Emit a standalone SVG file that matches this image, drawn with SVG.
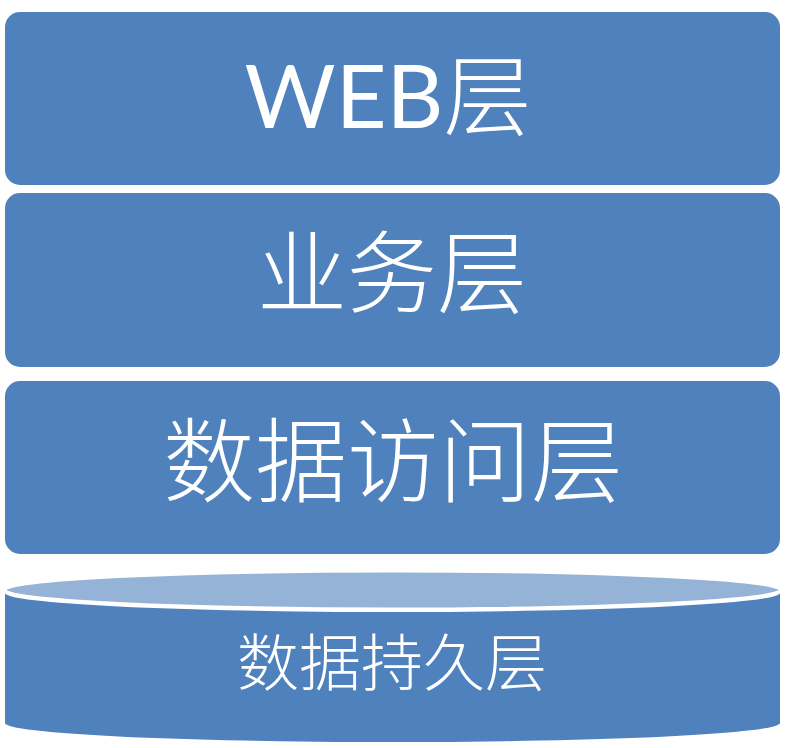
<svg xmlns="http://www.w3.org/2000/svg" width="786" height="748" viewBox="0 0 786 748">
  <style>
    .box { fill: #4f81bd; }
    .cap { fill: #95b3d7; stroke: #ffffff; stroke-width: 3; }
    .t { fill: #ffffff; text-anchor: middle; font-family: "Noto Sans CJK SC", "Noto Sans", sans-serif; font-weight: 300; }
    .lat { font-family: Lato, "Noto Sans CJK SC", sans-serif; font-weight: 400; }
  </style>
  <rect width="786" height="748" fill="#ffffff"/>
  <g id="web">
    <rect class="box" x="5" y="12" width="775" height="173" rx="15" ry="15"/>
    <text class="t lat" x="388" y="128" font-size="88">WEB<tspan font-family="Noto Sans CJK SC, sans-serif" font-weight="300">层</tspan></text>
  </g>
  <g id="business">
    <rect class="box" x="5" y="193" width="775" height="174" rx="15" ry="15"/>
    <text class="t" x="392" y="306" font-size="90">业务层</text>
  </g>
  <g id="dao">
    <rect class="box" x="5" y="381" width="775" height="173" rx="15" ry="15"/>
    <text class="t" x="393" y="495" font-size="92">数据访问层</text>
  </g>
  <g id="persistence">
    <path class="box" d="M5,593 L5,723 A387.5,19 0 0 0 780,723 L780,593 A387.5,19 0 0 1 5,593 Z"/>
    <ellipse class="cap" cx="392.5" cy="590" rx="387.5" ry="19"/>
    <text class="t" x="392" y="686" font-size="62">数据持久层</text>
  </g>
  <g id="connectors"/>
</svg>
